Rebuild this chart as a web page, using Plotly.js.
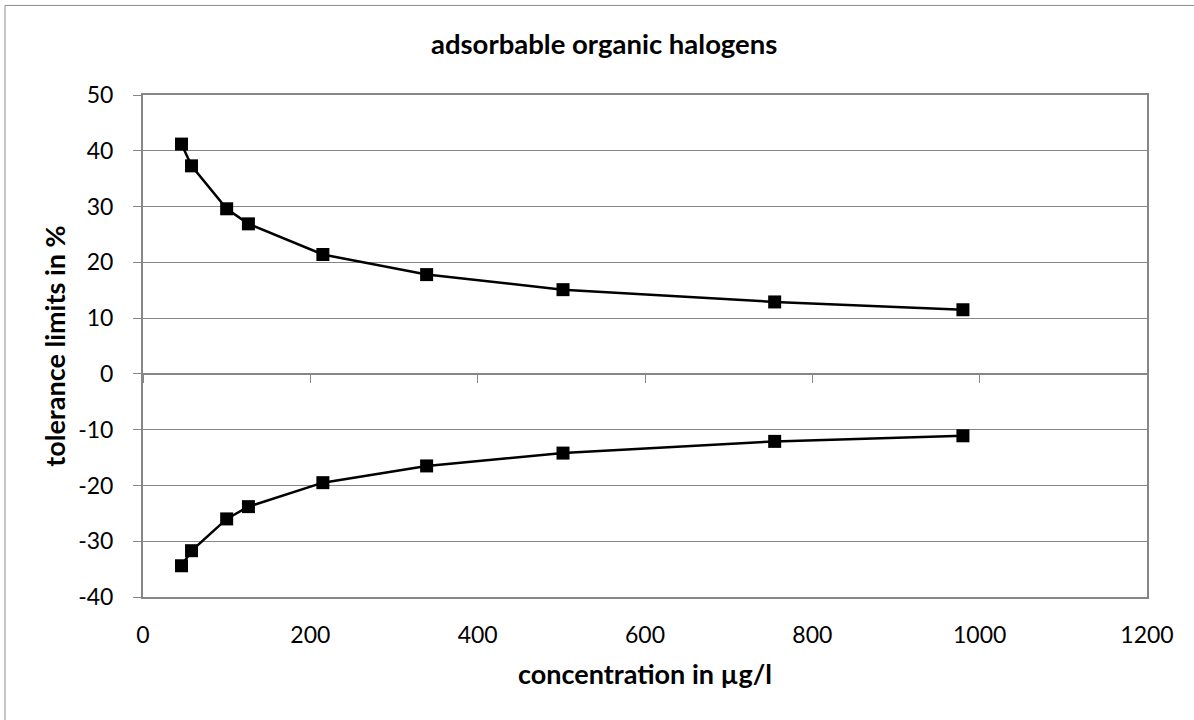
<!DOCTYPE html>
<html>
<head>
<meta charset="utf-8">
<script src="https://cdn.plot.ly/plotly-3.0.1.min.js"></script>
<style>
  html, body { margin: 0; padding: 0; background: #fff; }
  #chart { width: 1194px; height: 720px; }
</style>
</head>
<body>
<div id="chart"></div>
<script>
// concentration in µg/l and the tolerance limits (%)
var concentration = [46, 58, 100, 126, 215, 339, 502, 755, 980];
var upperLimit = [41.2, 37.3, 29.6, 26.9, 21.4, 17.8, 15.1, 12.9, 11.5];
var lowerLimit = [-34.4, -31.7, -26.0, -23.8, -19.5, -16.5, -14.2, -12.1, -11.1];

// y tick labels use a plain hyphen like the original
var yTickValues = [-40, -30, -20, -10, 0, 10, 20, 30, 40, 50];
var yTickLabels = ['-40', '-30', '-20', '-10', '0', '10', '20', '30', '40', '50'];

var xRange = [0, 1200];
var yRange = [-40, 50];
var gray = '#868686';
var fontFamily = 'Lato, "Open Sans", sans-serif';

var seriesStyle = {
    type: 'scatter',
    mode: 'lines+markers',
    line: { color: '#000', width: 2.5 },
    marker: { symbol: 'square', size: 13, color: '#000' },
    hoverinfo: 'x+y'
};

var data = [
    Object.assign({ x: concentration, y: upperLimit, name: 'upper limit' }, seriesStyle),
    Object.assign({ x: concentration, y: lowerLimit, name: 'lower limit', xaxis: 'x2' }, seriesStyle)
];

var layout = {
    width: 1194,
    height: 720,
    margin: { l: 143, r: 47, t: 95, b: 123 },
    paper_bgcolor: '#fff',
    plot_bgcolor: '#fff',
    showlegend: false,
    font: { family: fontFamily, color: '#000', size: 23 },
    title: {
        text: '<b>adsorbable organic halogens</b>',
        font: { family: fontFamily, size: 27.5, color: '#000' },
        xref: 'container',
        x: 0.506,
        xanchor: 'center',
        yref: 'container',
        y: 1 - 44 / 720,
        yanchor: 'middle'
    },
    xaxis: {
        range: xRange,
        dtick: 200,
        showgrid: false,
        zeroline: false,
        showline: true,
        mirror: true,
        linecolor: gray,
        linewidth: 2,
        ticks: '',
        ticklabelstandoff: 16,
        tickfont: { size: 23 },
        title: {
            text: '<b>concentration in µg/l</b>',
            font: { size: 27 },
            standoff: 19
        }
    },
    xaxis2: {
        range: xRange,
        dtick: 200,
        overlaying: 'x',
        anchor: 'free',
        position: (0 - yRange[0]) / (yRange[1] - yRange[0]),
        showgrid: false,
        zeroline: false,
        showline: true,
        linecolor: gray,
        linewidth: 1,
        ticks: 'outside',
        ticklen: 8,
        tickcolor: gray,
        showticklabels: false
    },
    yaxis: {
        range: yRange,
        tickmode: 'array',
        tickvals: yTickValues,
        ticktext: yTickLabels,
        showgrid: true,
        gridcolor: gray,
        gridwidth: 1,
        zeroline: false,
        showline: true,
        mirror: true,
        linecolor: gray,
        linewidth: 2,
        ticks: 'outside',
        ticklen: 8,
        tickcolor: gray,
        ticklabelstandoff: 15,
        tickfont: { size: 23 },
        title: {
            text: '<b>tolerance limits in %</b>',
            font: { size: 27 },
            standoff: 5
        }
    },
    shapes: [{
        type: 'rect',
        xref: 'paper', yref: 'paper',
        x0: (5 - 143) / 1004, x1: 1.2,
        y0: -0.5, y1: (597 - 6) / 501.5,
        line: { color: '#8c8c8c', width: 1 },
        layer: 'below'
    }]
};

Plotly.newPlot('chart', data, layout, { displayModeBar: false, staticPlot: true });
</script>
</body>
</html>
